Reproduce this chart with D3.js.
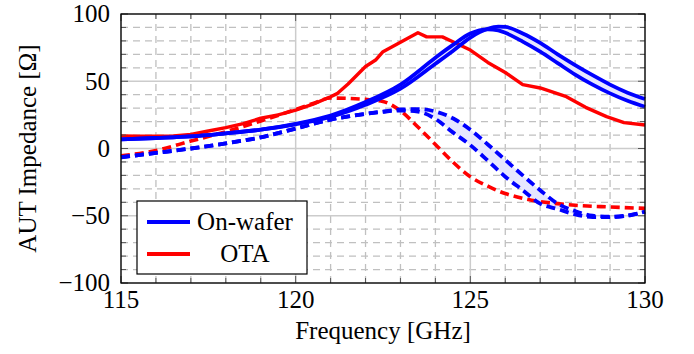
<!DOCTYPE html>
<html>
<head>
<meta charset="utf-8">
<script src="https://cdn.jsdelivr.net/npm/d3@7"></script>
<style>
  body { margin: 0; background: #fff; }
</style>
</head>
<body>
<svg id="chart" width="694" height="354"></svg>
<script>
// Data
const xTicks = [115, 120, 125, 130];
const yTicks = [-100, -50, 0, 50, 100];
const yTickLabels = ['\u2212100', '\u221250', '0', '50', '100'];

// on-wafer, solid (two bounds with shaded band between)
const freqSolid = [115, 116, 117, 118, 119, 120, 121, 122, 123, 124, 124.5, 125, 125.5, 125.8, 126, 126.5, 127, 127.5, 128, 128.5, 129, 129.5, 130];
const waferSolidA = [6.8, 7.8, 9, 11.3, 14, 18.3, 24.5, 34.5, 47.5, 67.5, 77, 85.5, 88.6, 87.8, 86, 79.5, 72, 63.5, 55, 47.5, 41, 35.5, 31];
const waferSolidB = [6.8, 7.8, 9, 11.3, 14, 18, 23.5, 32.5, 44.5, 63, 72.5, 82.5, 89, 90.6, 90.4, 85.5, 78.5, 70, 62, 54.5, 47.5, 41.5, 36.8];

// on-wafer, dashed (two bounds with shaded band between)
const freqDash = [115, 116, 117, 118, 119, 120, 121, 122, 122.5, 123, 123.5, 124, 124.5, 125, 125.5, 126, 126.5, 127, 127.5, 128, 128.5, 129, 129.5, 130];
const waferDashA = [-6.5, -3.3, 0, 3.8, 8.3, 14.8, 21.5, 25.8, 27.3, 28.2, 27.4, 22, 12, 2.5, -9, -21, -31, -41, -45, -49, -51, -51, -50, -47];
const waferDashB = [-6.5, -3.3, 0, 3.8, 8.3, 14.8, 21.5, 25.8, 27.5, 29, 29.3, 27.5, 22.5, 14, 3, -8.5, -20, -31, -41, -46.5, -50, -50.7, -49.8, -47];

// OTA, solid
const freqOtaSolid = [115, 115.5, 116, 116.5, 117, 117.5, 118, 118.5, 119, 119.5, 120, 120.5, 121, 121.2, 121.5, 122, 122.3, 122.5, 123, 123.5, 123.75, 124.2, 124.5, 125, 125.5, 126, 126.5, 127, 127.75, 128.3, 128.9, 129.4, 130];
const otaSolid = [9.3, 9.2, 9.1, 9.3, 10.5, 13, 15.5, 18.5, 22.5, 25, 28.5, 33, 38.5, 41, 48, 61, 66, 72, 79, 86, 83, 83, 79.4, 73.2, 64, 56.5, 47.5, 45, 38.5, 30.6, 23.7, 19.2, 17.5];

// OTA, dashed
const freqOtaDash = [115, 116, 117, 118, 119, 120, 120.5, 121, 121.5, 122, 122.5, 123, 123.5, 124, 124.5, 125, 125.5, 126, 126.5, 127, 127.5, 128, 129, 130];
const otaDash = [-5.5, -1.5, 5.5, 12.5, 20.5, 29, 33.5, 37.5, 37.3, 36.5, 35, 28, 16, 3, -10, -21, -28, -33.5, -37, -39.5, -41, -42.2, -43.5, -44.5];

const legendLabels = ['On-wafer', 'OTA'];
const legendColors = ['#0000ff', '#ff0000'];

// layout
const margin = { left: 121, right: 49, top: 14, bottom: 71 };
const width = 694, height = 354;
const fontSize = 25;
const serif = 'Liberation Serif, Times New Roman, DejaVu Serif, serif';

const svg = d3.select('#chart');

const x = d3.scaleLinear().domain([115, 130]).range([margin.left, width - margin.right]);
const y = d3.scaleLinear().domain([-100, 100]).range([height - margin.bottom, margin.top]);

const minorX = d3.range(115, 130.01, 1);
const minorY = d3.range(-100, 100.01, 10);

// minor grid (dashed)
const grid = svg.append('g');
grid.selectAll('.mgx').data(minorX.filter(v => v % 5 !== 0)).join('line')
  .attr('x1', d => x(d)).attr('x2', d => x(d))
  .attr('y1', y(-100)).attr('y2', y(100))
  .style('stroke', '#c0c0c0').style('stroke-width', 1.3).style('stroke-dasharray', '7,5');
grid.selectAll('.mgy').data(minorY.filter(v => v % 50 !== 0)).join('line')
  .attr('y1', d => y(d)).attr('y2', d => y(d))
  .attr('x1', x(115)).attr('x2', x(130))
  .style('stroke', '#c0c0c0').style('stroke-width', 1.3).style('stroke-dasharray', '7,5');
// major grid (solid)
grid.selectAll('.gx').data(xTicks).join('line')
  .attr('x1', d => x(d)).attr('x2', d => x(d))
  .attr('y1', y(-100)).attr('y2', y(100))
  .style('stroke', '#cccccc').style('stroke-width', 1.5);
grid.selectAll('.gy').data(yTicks).join('line')
  .attr('y1', d => y(d)).attr('y2', d => y(d))
  .attr('x1', x(115)).attr('x2', x(130))
  .style('stroke', '#cccccc').style('stroke-width', 1.5);

// shaded bands between the two bounds
const bandFill = '#e6e6ff';
const solidBand = freqSolid.map((f, i) => ({ f, a: waferSolidA[i], b: waferSolidB[i] }));
const dashBand = freqDash.map((f, i) => ({ f, a: waferDashA[i], b: waferDashB[i] }));
const area = d3.area().x(d => x(d.f)).y0(d => y(d.a)).y1(d => y(d.b)).curve(d3.curveMonotoneX);
svg.append('path').datum(solidBand).attr('d', area).style('fill', bandFill);
svg.append('path').datum(dashBand).attr('d', area).style('fill', bandFill);

// curves
const plotLine = (fs, vs, color, dashed, smooth, w) => {
  const line = d3.line()
    .x(d => x(d[0])).y(d => y(d[1]))
    .curve(smooth ? d3.curveMonotoneX : d3.curveLinear);
  svg.append('path')
    .datum(fs.map((f, i) => [f, vs[i]]))
    .attr('d', line)
    .style('fill', 'none')
    .style('stroke', color)
    .style('stroke-width', w)
    .style('stroke-linejoin', 'round')
    .style('stroke-dasharray', dashed ? '9,5' : null);
};

plotLine(freqOtaDash, otaDash, '#ff0000', true, true, 3.6);
plotLine(freqOtaSolid, otaSolid, '#ff0000', false, false, 3.4);
plotLine(freqDash, waferDashA, '#0000ff', true, true, 3.8);
plotLine(freqDash, waferDashB, '#0000ff', true, true, 3.8);
plotLine(freqSolid, waferSolidA, '#0000ff', false, true, 3.8);
plotLine(freqSolid, waferSolidB, '#0000ff', false, true, 3.8);

// ticks pointing inward on all four sides
const ticks = svg.append('g').style('stroke', '#555').style('stroke-width', 1);
const tLen = v => (v % 5 === 0 ? 7 : 5);
const tLenY = v => (v % 50 === 0 ? 7 : 5);
minorX.forEach(v => {
  ticks.append('line').attr('x1', x(v)).attr('x2', x(v)).attr('y1', y(-100)).attr('y2', y(-100) - tLen(v));
  ticks.append('line').attr('x1', x(v)).attr('x2', x(v)).attr('y1', y(100)).attr('y2', y(100) + tLen(v));
});
minorY.forEach(v => {
  ticks.append('line').attr('y1', y(v)).attr('y2', y(v)).attr('x1', x(115)).attr('x2', x(115) + tLenY(v));
  ticks.append('line').attr('y1', y(v)).attr('y2', y(v)).attr('x1', x(130)).attr('x2', x(130) - tLenY(v));
});

// frame
svg.append('rect')
  .attr('x', x(115)).attr('y', y(100))
  .attr('width', x(130) - x(115)).attr('height', y(-100) - y(100))
  .style('fill', 'none').style('stroke', '#000').style('stroke-width', 1.3);

// tick labels
svg.selectAll('.xl').data(xTicks).join('text')
  .attr('x', d => x(d)).attr('y', 308)
  .attr('text-anchor', 'middle')
  .attr('font-family', serif)
  .attr('font-size', fontSize)
  .text(d => d);
svg.selectAll('.yl').data(yTicks).join('text')
  .attr('x', 110).attr('y', d => y(d))
  .attr('dy', '0.33em')
  .attr('text-anchor', 'end')
  .attr('font-family', serif)
  .attr('font-size', fontSize)
  .text((d, i) => yTickLabels[i]);

// axis titles
svg.append('text')
  .attr('x', (x(115) + x(130)) / 2).attr('y', 339)
  .attr('text-anchor', 'middle')
  .attr('font-family', serif)
  .attr('font-size', fontSize)
  .text('Frequency [GHz]');
svg.append('text')
  .attr('transform', `translate(36,${(y(100) + y(-100)) / 2}) rotate(-90)`)
  .attr('text-anchor', 'middle')
  .attr('font-family', serif)
  .attr('font-size', fontSize)
  .text('AUT Impedance [\u03A9]');

// legend
const lg = svg.append('g');
lg.append('rect')
  .attr('x', 137).attr('y', 201).attr('width', 170).attr('height', 73)
  .style('fill', '#fff').style('stroke', '#000').style('stroke-width', 1.2);
legendLabels.forEach((lab, i) => {
  const ly = 222 + i * 32;
  lg.append('line')
    .attr('x1', 147).attr('x2', 190).attr('y1', ly).attr('y2', ly)
    .style('stroke', legendColors[i]).style('stroke-width', 3.8);
  lg.append('text')
    .attr('x', 245).attr('y', ly + 8)
    .attr('text-anchor', 'middle')
    .attr('font-family', serif)
    .attr('font-size', fontSize)
    .text(lab);
});
</script>
</body>
</html>
